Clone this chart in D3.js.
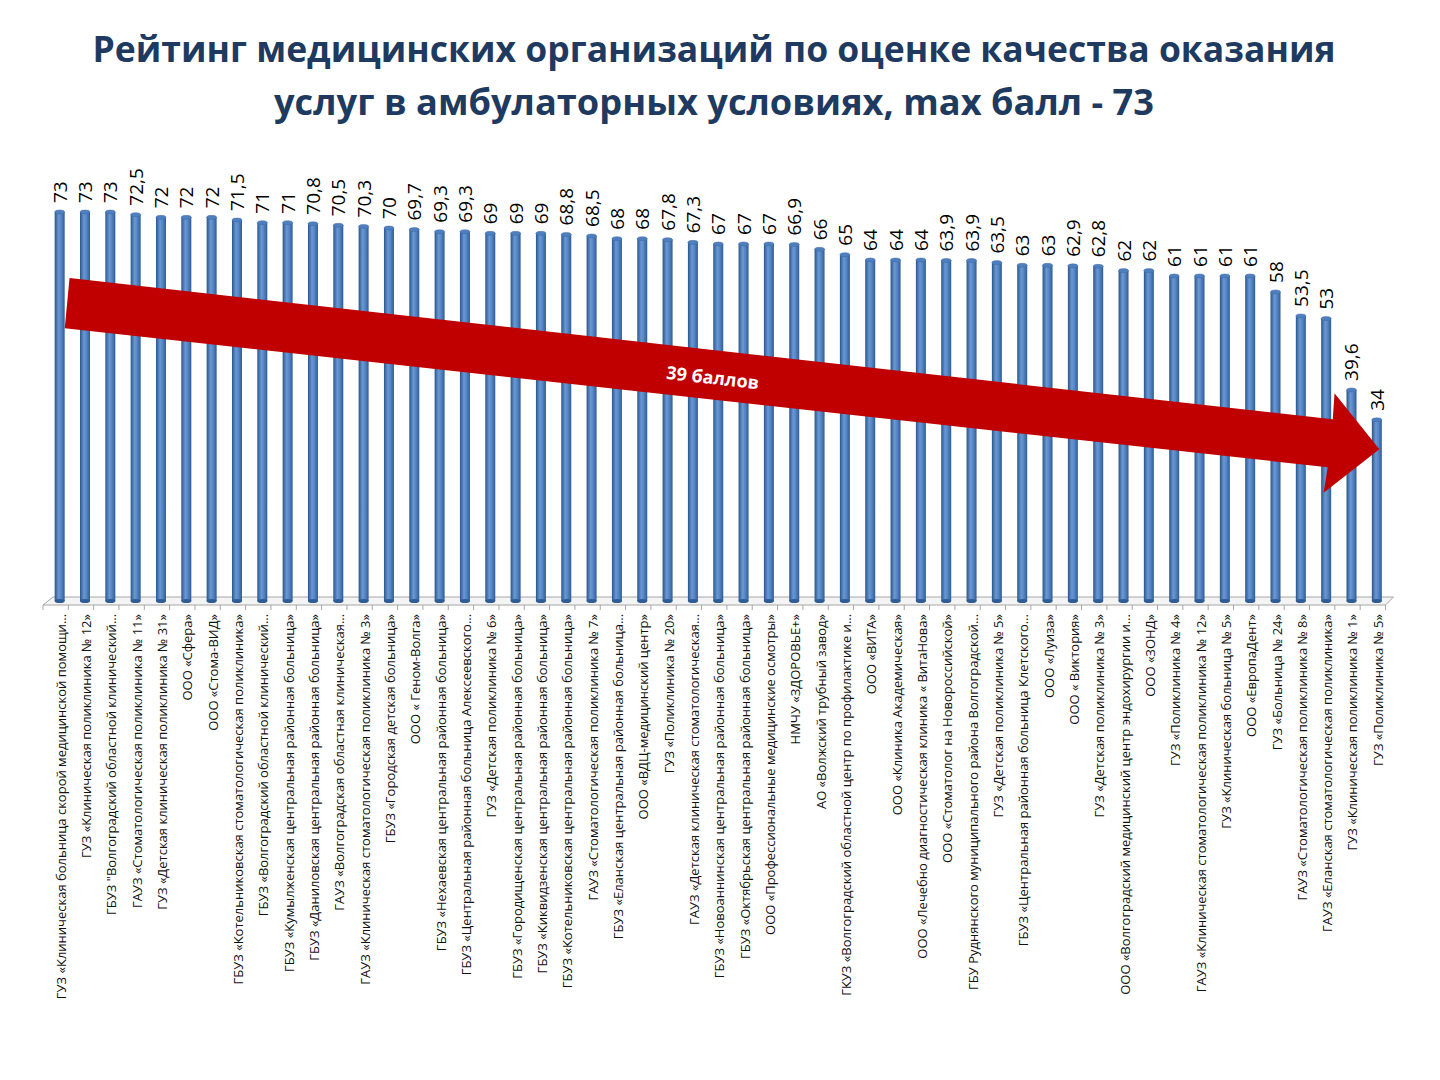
<!DOCTYPE html>
<html>
<head>
<meta charset="utf-8">
<script src="https://cdn.jsdelivr.net/npm/d3@7"></script>
<style>
  body { margin: 0; background: #fff; }
</style>
</head>
<body>
<div id="chart"></div>
<script>
// Chart data
const titleLines = [
  "Рейтинг медицинских организаций по оценке качества оказания",
  "услуг в амбулаторных условиях, max балл - 73"
];

const organizations = [
  "ГУЗ «Клиническая больница скорой медицинской помощи…",
  "ГУЗ «Клиническая поликлиника № 12»",
  "ГБУЗ \"Волгоградский областной клинический…",
  "ГАУЗ «Стоматологическая поликлиника № 11»",
  "ГУЗ «Детская клиническая поликлиника № 31»",
  "ООО «Сфера»",
  "ООО «Стома-ВИД»",
  "ГБУЗ «Котельниковская стоматологическая поликлиника»",
  "ГБУЗ «Волгоградский областной клинический…",
  "ГБУЗ «Кумылженская центральная районная больница»",
  "ГБУЗ «Даниловская центральная районная больница»",
  "ГАУЗ «Волгоградская областная клиническая…",
  "ГАУЗ «Клиническая стоматологическая поликлиника № 3»",
  "ГБУЗ «Городская детская больница»",
  "ООО « Геном-Волга»",
  "ГБУЗ «Нехаевская центральная районная больница»",
  "ГБУЗ «Центральная районная больница Алексеевского…",
  "ГУЗ «Детская поликлиника № 6»",
  "ГБУЗ «Городищенская центральная районная больница»",
  "ГБУЗ «Киквидзенская центральная районная больница»",
  "ГБУЗ «Котельниковская центральная районная больница»",
  "ГАУЗ «Стоматологическая поликлиника № 7»",
  "ГБУЗ «Еланская центральная районная больница…",
  "ООО «ВДЦ-медицинский центр»",
  "ГУЗ «Поликлиника № 20»",
  "ГАУЗ «Детская клиническая стоматологическая…",
  "ГБУЗ «Новоаннинская центральная районная больница»",
  "ГБУЗ «Октябрьская центральная районная больница»",
  "ООО «Профессиональные медицинские осмотры»",
  "НМЧУ «ЗДОРОВЬЕ+»",
  "АО  «Волжский трубный завод»",
  "ГКУЗ «Волгоградский областной центр по профилактике и…",
  "ООО «ВИТА»",
  "ООО  «Клиника Академическая»",
  "ООО «Лечебно диагностическая клиника « ВитаНова»",
  "ООО «Стоматолог на Новороссийской»",
  "ГБУ Руднянского муниципального района Волгоградской…",
  "ГУЗ «Детская поликлиника № 5»",
  "ГБУЗ «Центральная районная больница Клетского…",
  "ООО «Луиза»",
  "ООО « Виктория»",
  "ГУЗ «Детская поликлиника № 3»",
  "ООО «Волгоградский медицинский центр эндохирургии и…",
  "ООО «ЗОНД»",
  "ГУЗ «Поликлиника № 4»",
  "ГАУЗ «Клиническая стоматологическая поликлиника № 12»",
  "ГУЗ «Клиническая больница № 5»",
  "ООО «ЕвропаДент»",
  "ГУЗ «Больница № 24»",
  "ГАУЗ «Стоматологическая поликлиника № 8»",
  "ГАУЗ «Еланская стоматологическая поликлиника»",
  "ГУЗ «Клиническая поликлиника № 1»",
  "ГУЗ «Поликлиника № 5»"
];

const scores = [
  73, 73, 73, 72.5, 72, 72, 72, 71.5, 71, 71,
  70.8, 70.5, 70.3, 70, 69.7, 69.3, 69.3, 69, 69, 69,
  68.8, 68.5, 68, 68, 67.8, 67.3, 67, 67, 67, 66.9,
  66, 65, 64, 64, 64, 63.9, 63.9, 63.5, 63, 63,
  62.9, 62.8, 62, 62, 61, 61, 61, 61, 58, 53.5,
  53, 39.6, 34
];

// arrow annotation: [bar position, score]
const arrowLabel = "39 баллов";
const arrowShape = [
  [0.39, 60.6], [50.26, 34.1], [50.33, 39.0], [52.1, 28.5],
  [49.9, 20.3], [50.06, 25.1], [0.2, 51.2]
];

const data = organizations.map((name, i) => ({name: name, value: scores[i]}));

let width = 1440,
    height = 1080,
    margin = ({top: 212, right: 50, bottom: 479, left: 47});

const svg = d3.select("#chart")
  .append("svg")
  .attr("width", width)
  .attr("height", height)
  .attr("viewBox", [0, 0, width, height])
  .style("font-family", "'Open Sans', sans-serif");

// gradients for the cylinders
const defs = svg.append("defs");
const grad = defs.append("linearGradient")
  .attr("id", "cyl")
  .attr("x1", "0%").attr("x2", "100%").attr("y1", "0%").attr("y2", "0%");
grad.append("stop").attr("offset", "0%").attr("stop-color", "#2b558a");
grad.append("stop").attr("offset", "40%").attr("stop-color", "#6a98d4");
grad.append("stop").attr("offset", "65%").attr("stop-color", "#5585c4");
grad.append("stop").attr("offset", "100%").attr("stop-color", "#2f5c94");

// Title
svg.append("g")
  .selectAll("text")
  .data(titleLines)
  .join("text")
  .attr("x", 714)
  .attr("y", (d, i) => 62 + i * 53)
  .attr("text-anchor", "middle")
  .attr("font-size", 35)
  .attr("font-weight", 700)
  .attr("fill", "#1f3a60")
  .attr("textLength", (d, i) => i === 0 ? 1243 : 880)
  .attr("lengthAdjust", "spacingAndGlyphs")
  .text(d => d);

// Scales
let xScale = d3.scaleBand()
  .domain(d3.range(data.length))
  .range([margin.left, margin.left + 25.33 * data.length]);

let yScale = d3.scaleLinear()
  .domain([0, 73])
  .range([height - margin.bottom, margin.top]);

const y0 = yScale(0);
const bw = 10;
const cx = i => xScale(i) + xScale.bandwidth() / 2;

// floor
let [fl, fr] = xScale.range();
svg.append("polygon")
  .attr("points", [[fl + 6, y0 - 4], [fr + 4, y0 - 4], [fr - 4, y0 + 4], [fl - 4, y0 + 4]].join(" "))
  .attr("fill", "#f4f4f4")
  .attr("stroke", "#a6a6a6")
  .attr("stroke-width", 1);

svg.append("g")
  .selectAll("line")
  .data(d3.range(data.length + 1))
  .join("line")
  .attr("x1", i => (i < data.length ? xScale(i) : fr) - 4)
  .attr("x2", i => (i < data.length ? xScale(i) : fr) - 4)
  .attr("y1", y0 + 4)
  .attr("y2", y0 + 9)
  .attr("stroke", "#a6a6a6");

// bars
let bars = svg.append("g").classed("bars", true);

bars.selectAll("rect")
  .data(data)
  .join("rect")
  .attr("x", (d, i) => cx(i) - bw / 2)
  .attr("y", d => yScale(d.value))
  .attr("width", bw)
  .attr("height", d => y0 - yScale(d.value))
  .attr("fill", "url(#cyl)");

bars.selectAll("ellipse.bottom")
  .data(data)
  .join("ellipse")
  .classed("bottom", true)
  .attr("cx", (d, i) => cx(i))
  .attr("cy", y0)
  .attr("rx", bw / 2)
  .attr("ry", 2)
  .attr("fill", "#2f5c94");

bars.selectAll("ellipse.top")
  .data(data)
  .join("ellipse")
  .classed("top", true)
  .attr("cx", (d, i) => cx(i))
  .attr("cy", d => yScale(d.value))
  .attr("rx", bw / 2)
  .attr("ry", 2)
  .attr("fill", "#4f7fbf")
  .attr("stroke", "#3a6aa6")
  .attr("stroke-width", 0.5);

// value labels
svg.append("g")
  .selectAll("text")
  .data(data)
  .join("text")
  .attr("transform", (d, i) => `translate(${cx(i) + 7},${yScale(d.value) - 9}) rotate(-90)`)
  .attr("font-size", 19)
  .attr("fill", "#000")
  .text(d => String(d.value).replace(".", ","));

// category labels
svg.append("g")
  .selectAll("text")
  .data(data)
  .join("text")
  .attr("transform", (d, i) => `translate(${cx(i) + 6},${y0 + 13}) rotate(-90)`)
  .attr("text-anchor", "end")
  .attr("font-size", 13)
  .attr("fill", "#111")
  .text(d => d.name);

// red arrow
let arrowX = d3.scaleLinear().domain([0, data.length - 1]).range([cx(0), cx(data.length - 1)]);
svg.append("polygon")
  .attr("points", arrowShape.map(p => [arrowX(p[0]), yScale(p[1])]).join(" "))
  .attr("fill", "#c00000");

let a0 = arrowShape[0], a1 = arrowShape[1];
let ang = Math.atan2(yScale(a1[1]) - yScale(a0[1]), arrowX(a1[0]) - arrowX(a0[0])) * 180 / Math.PI;
svg.append("text")
  .attr("transform", `translate(712,384) rotate(${ang})`)
  .attr("text-anchor", "middle")
  .attr("font-size", 18)
  .attr("font-weight", 700)
  .attr("fill", "#fff")
  .text(arrowLabel);
</script>
</body>
</html>
